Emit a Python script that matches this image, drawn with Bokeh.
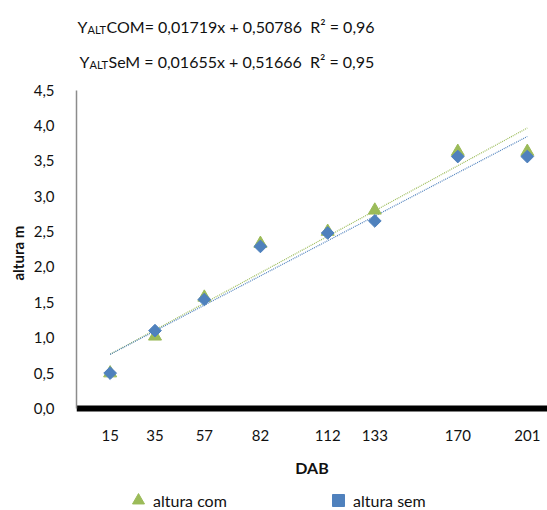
from bokeh.plotting import figure
from bokeh.models import (Range1d, FixedTicker, CustomJSTickFormatter, Label,
                          Legend, LegendItem, Title)
from bokeh.embed import file_html
from bokeh.resources import INLINE
import numpy as np

# ---- data ----
dab = [15, 35, 57, 82, 112, 133, 170, 201]
altura_com = [0.50, 1.02, 1.57, 2.33, 2.50, 2.80, 3.63, 3.63]
altura_sem = [0.50, 1.10, 1.54, 2.29, 2.48, 2.65, 3.56, 3.56]
y_ticks = [0.0, 0.5, 1.0, 1.5, 2.0, 2.5, 3.0, 3.5, 4.0, 4.5]
fit_com = [0.01719, 0.50786]   # slope, intercept
fit_sem = [0.01655, 0.51666]
eq_com = "COM= 0,01719x + 0,50786\u00a0 R\u00b2 = 0,96"
eq_sem = "SeM = 0,01655x + 0,51666\u00a0 R\u00b2 = 0,95"

GREEN = "#9BBB59"
BLUE = "#4F81BD"
FONT = "Lato"
TXT = "#111111"

# layout: the plot frame fills the whole height; the x axis is pinned at y = 0
H, AXIS_PX, TOP_PX = 510, 408.0, 89.5
ppu = (AXIS_PX - TOP_PX) / max(y_ticks)          # pixels per metre
y_range = Range1d(-(H - AXIS_PX) / ppu, AXIS_PX / ppu)

p = figure(width=547, height=H, output_backend="svg", toolbar_location=None,
           x_range=Range1d(0, 210), y_range=y_range,
           min_border_left=76, min_border_top=0, min_border_right=0,
           min_border_bottom=0)
p.outline_line_color = None
p.xgrid.grid_line_color = None
p.ygrid.grid_line_color = None

# trend lines
xs = np.array([min(dab), max(dab)], dtype=float)
p.line(xs, fit_com[0] * xs + fit_com[1], line_color=GREEN, line_width=1.2,
       line_dash="1 1")
p.line(xs, fit_sem[0] * xs + fit_sem[1], line_color=BLUE, line_width=1.2,
       line_dash="1 1")

r_com = p.scatter(dab, altura_com, marker="triangle", size=13,
                  fill_color=GREEN, line_color=GREEN)
r_sem = p.scatter(dab, altura_sem, marker="square", angle=np.pi / 4, size=9,
                  fill_color=BLUE, line_color=BLUE)

# x axis (pinned at y = 0)
p.xaxis.fixed_location = 0
p.xaxis.ticker = FixedTicker(ticks=dab)
p.xaxis.axis_line_width = 6
p.xaxis.axis_line_color = "black"
p.xaxis.major_tick_line_color = None
p.xaxis.minor_tick_line_color = None
p.xaxis.major_tick_out = 6
p.xaxis.major_label_standoff = 15
p.xaxis.major_label_text_font = FONT
p.xaxis.major_label_text_font_size = "15px"
p.xaxis.major_label_text_color = TXT
p.xaxis.axis_label = "DAB"
p.xaxis.axis_label_text_font = FONT
p.xaxis.axis_label_text_font_size = "16px"
p.xaxis.axis_label_text_font_style = "bold"
p.xaxis.axis_label_text_color = TXT
p.xaxis.axis_label_standoff = 14

# y axis
p.yaxis.ticker = FixedTicker(ticks=y_ticks)
p.yaxis.bounds = (min(y_ticks), max(y_ticks))
p.yaxis.formatter = CustomJSTickFormatter(
    code="return tick.toFixed(1).replace('.', ',');")
p.yaxis.axis_line_color = "#8c8c8c"
p.yaxis.axis_line_width = 1.5
p.yaxis.major_tick_line_color = None
p.yaxis.minor_tick_line_color = None
p.yaxis.major_label_standoff = 16
p.yaxis.major_label_text_font = FONT
p.yaxis.major_label_text_font_size = "15px"
p.yaxis.major_label_text_color = TXT

# y axis title, placed beside the bounded axis
p.add_layout(Title(text="altura m", align="left", offset=230,
                   text_font=FONT, text_font_size="15px",
                   text_font_style="bold", text_color=TXT, standoff=8),
             "left")

# equation texts (with ALT subscript)
def eq_line(x0, base, rest):
    p.add_layout(Label(x=x0, y=base, x_units="screen", y_units="screen",
                       text="Y", text_font=FONT, text_font_size="16px",
                       text_color=TXT, text_baseline="alphabetic"))
    p.add_layout(Label(x=x0 + 10, y=base - 3, x_units="screen", y_units="screen",
                       text="ALT", text_font=FONT, text_font_size="11px",
                       text_color=TXT, text_baseline="alphabetic"))
    p.add_layout(Label(x=x0 + 29, y=base, x_units="screen", y_units="screen",
                       text=rest, text_font=FONT, text_font_size="16px",
                       text_color=TXT, text_baseline="alphabetic"))

eq_line(1, H - 26, eq_com)
eq_line(3, H - 61, eq_sem)

legend = Legend(items=[LegendItem(label="altura com", renderers=[r_com]),
                       LegendItem(label="altura sem", renderers=[r_sem])],
                location=(47, -5), orientation="horizontal",
                padding=0, margin=0, spacing=0, label_width=170,
                glyph_width=30, glyph_height=30, label_height=20,
                label_standoff=-5, border_line_color=None,
                background_fill_alpha=0,
                label_text_font=FONT, label_text_font_size="16px",
                label_text_color=TXT)
p.add_layout(legend, "center")

open("out.html", "w").write(file_html(p, INLINE))
